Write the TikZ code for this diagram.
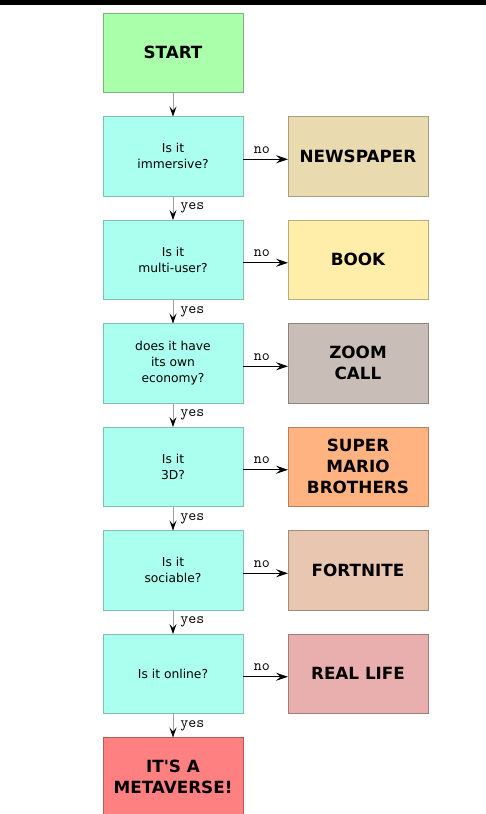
\documentclass[tikz,border=0pt]{standalone}
\usepackage{fontspec}
\setmainfont{DejaVu Sans}
\usepackage{tikz}
\usetikzlibrary{positioning,arrows.meta}
\definecolor{cstart}{HTML}{AAFFAA}
\definecolor{cstartl}{HTML}{80B080}
\definecolor{cq}{HTML}{AAFFEE}
\definecolor{cql}{HTML}{80BFB2}
\definecolor{cnews}{HTML}{E9DBAF}
\definecolor{cnewsl}{HTML}{A89F80}
\definecolor{cbook}{HTML}{FFEEAA}
\definecolor{cbookl}{HTML}{B8AC7A}
\definecolor{czoom}{HTML}{C8BEB7}
\definecolor{czooml}{HTML}{8A8480}
\definecolor{cmario}{HTML}{FFB380}
\definecolor{cmariol}{HTML}{B3805C}
\definecolor{cfort}{HTML}{E9C6AF}
\definecolor{cfortl}{HTML}{A38B7B}
\definecolor{clife}{HTML}{E9AFAF}
\definecolor{clifel}{HTML}{A37B7B}
\definecolor{cmeta}{HTML}{FF8080}
\definecolor{cmetal}{HTML}{B35A5A}
\definecolor{vline}{HTML}{A0A0A0}
\tikzset{
  box/.style  = {rectangle, line width=0.8pt, minimum width=140pt, minimum height=79.5pt,
                 inner sep=2pt, outer sep=0pt, align=center},
  qbox/.style = {box, draw=cql, fill=cq, font=\fontsize{12.3}{16}\selectfont},
  tbox/.style = {box, font=\fontsize{16.8}{21}\selectfont\bfseries},
  down/.style = {draw=vline, line width=0.8pt,
                 -{Stealth[black,length=10pt,width=7pt,inset=4pt]}},
  side/.style = {draw=black, line width=0.8pt,
                 -{Stealth[black,length=12pt,width=8pt,inset=4.5pt]}},
  yl/.style   = {font=\ttfamily\fontsize{15.5}{15.5}\selectfont, inner sep=1pt},
  node distance = 24pt and 45pt,
}
\begin{document}
\begin{tikzpicture}
\useasboundingbox (0,0) rectangle (486pt,-814pt);
\fill[black] (0,0) rectangle (486pt,-5pt);

% ---- main column
\node[tbox, draw=cstartl, fill=cstart] (start) at (173pt,-52.75pt) {START};
\node[qbox, below=of start] (q1) {Is it\\immersive?};
\node[qbox, below=of q1]    (q2) {Is it\\multi-user?};
\node[qbox, below=of q2]    (q3) {does it have\\its own\\economy?};
\node[qbox, below=of q3]    (q4) {Is it\\3D?};
\node[qbox, below=of q4]    (q5) {Is it\\sociable?};
\node[qbox, below=of q5]    (q6) {Is it online?};
\node[tbox, draw=cmetal, fill=cmeta, below=of q6] (meta) {IT\textquotesingle S A\\METAVERSE!};

% ---- the answers when it is not
\node[tbox, draw=cnewsl,  fill=cnews,  right=of q1] (news)  {NEWSPAPER};
\node[tbox, draw=cbookl,  fill=cbook,  right=of q2] (book)  {BOOK};
\node[tbox, draw=czooml,  fill=czoom,  right=of q3] (zoom)  {ZOOM\\CALL};
\node[tbox, draw=cmariol, fill=cmario, right=of q4] (mario) {SUPER\\MARIO\\BROTHERS};
\node[tbox, draw=cfortl,  fill=cfort,  right=of q5] (fort)  {FORTNITE};
\node[tbox, draw=clifel,  fill=clife,  right=of q6] (life)  {REAL LIFE};

% ---- yes, down the column
\draw[down] (start) -- (q1);
\foreach \a/\b in {q1/q2, q2/q3, q3/q4, q4/q5, q5/q6, q6/meta}
  \draw[down] (\a) -- node[yl,right,xshift=6pt,pos=0.5] {yes} (\b);

% ---- no, out to the side
\foreach \q/\a in {q1/news, q2/book, q3/zoom, q4/mario, q5/fort, q6/life}
  \draw[side] ([yshift=-3pt]\q.east) -- node[yl,above,pos=0.42,yshift=4.5pt] {no} ([yshift=-3pt]\a.west);

\end{tikzpicture}
\end{document}
